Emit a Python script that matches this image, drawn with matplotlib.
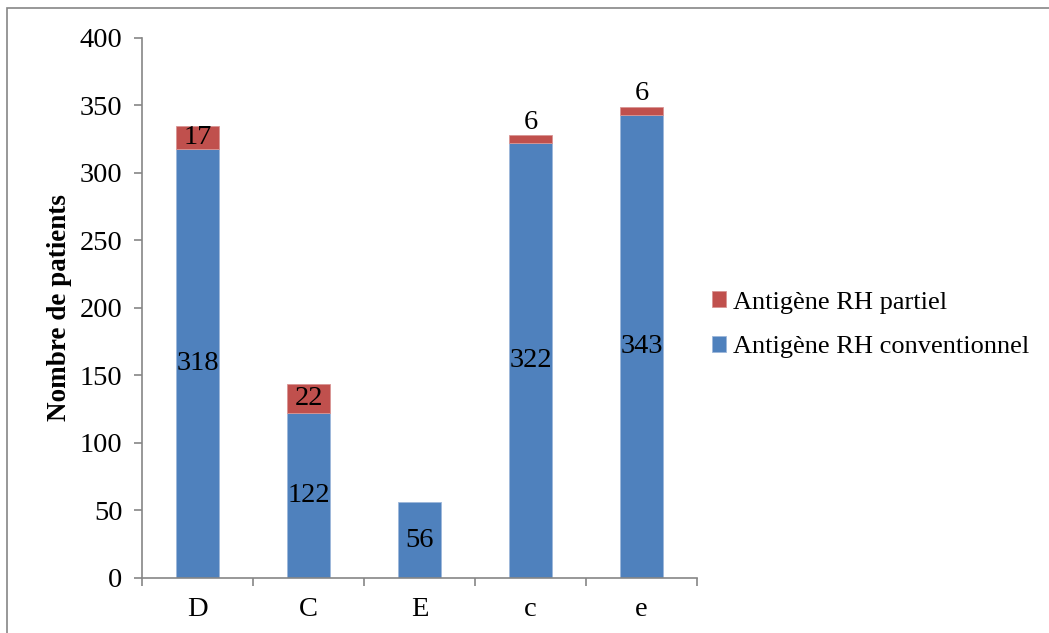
import matplotlib
matplotlib.use("Agg")
import matplotlib.pyplot as plt
import matplotlib.patches as patches

# Data
categories = ['D', 'C', 'E', 'c', 'e']
conventionnel = [318, 122, 56, 322, 343]
partiel = [17, 22, 0, 6, 6]

blue = '#4F81BD'
red = '#C0504D'
gray = '#868686'

plt.rcParams['font.family'] = ['Liberation Serif', 'DejaVu Serif']

fig = plt.figure(figsize=(10.49, 6.33), dpi=100)
ax = fig.add_axes([0.1354, 0.0869, 0.529, 0.8531])

x = list(range(len(categories)))
width = 0.39
b1 = ax.bar(x, conventionnel, width, color=blue, edgecolor='#9DB7DA', linewidth=0.6,
            label='Antigène RH conventionnel')
b2 = ax.bar(x, partiel, width, bottom=conventionnel, color=red, edgecolor='#D99594',
            linewidth=[0.6 if p else 0 for p in partiel], label='Antigène RH partiel')

fs = 20.5
# Value labels
for i in x:
    ax.text(i, conventionnel[i] / 2, str(conventionnel[i]), ha='center', va='center',
            fontsize=fs)
    if partiel[i] == 0:
        continue
    if partiel[i] >= 10:
        ax.text(i, conventionnel[i] + partiel[i] / 2, str(partiel[i]), ha='center',
                va='center', fontsize=fs)
    else:
        ax.text(i, conventionnel[i] + partiel[i] + 0.5, str(partiel[i]), ha='center',
                va='bottom', fontsize=fs)

ax.set_xlim(-0.5, len(categories) - 0.5)
ax.set_ylim(0, 400)
ax.set_yticks(range(0, 401, 50))
ax.set_xticks([i - 0.5 for i in range(len(categories) + 1)], minor=False)
ax.set_xticklabels([''] * (len(categories) + 1))
ax.set_xticks(x, minor=True)
ax.set_xticklabels(categories, minor=True)
ax.tick_params(axis='x', which='major', length=6, color=gray, width=1.2, direction='out')
ax.tick_params(axis='x', which='minor', length=0, labelsize=fs, pad=14)
ax.tick_params(axis='y', length=6, color=gray, width=1.2, labelsize=fs, pad=8)

for side in ['top', 'right']:
    ax.spines[side].set_visible(False)
for side in ['left', 'bottom']:
    ax.spines[side].set_color(gray)
    ax.spines[side].set_linewidth(1.2)

ax.set_ylabel('Nombre de patients', fontsize=19.5, fontweight='bold', labelpad=6)

handles = [b2, b1]
labels = ['Antigène RH partiel', 'Antigène RH conventionnel']
fig.legend(handles, labels, loc='center left', bbox_to_anchor=(0.656, 0.487),
           frameon=False, fontsize=19, handlelength=0.55, handleheight=0.55,
           handletextpad=0.25, labelspacing=0.85)

# Chart frame (only top and left edges show in the picture)
frame = patches.Rectangle((0.0067, -0.05), 1.5, 1.037, transform=fig.transFigure,
                          fill=False, edgecolor=gray, linewidth=1.2)
fig.patches.append(frame)

fig.savefig('out.png', dpi=100)
